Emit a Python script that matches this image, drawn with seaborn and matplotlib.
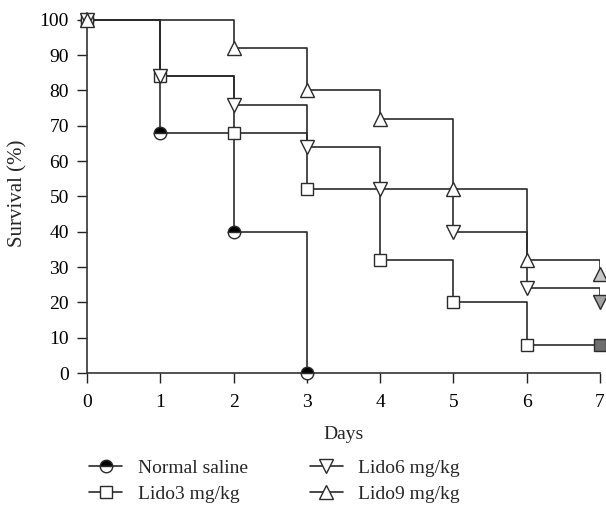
import pandas as pd
import seaborn as sns
import matplotlib.pyplot as plt
from matplotlib.lines import Line2D

# survival (%) per day
days = [0, 1, 2, 3, 4, 5, 6, 7]
saline = [100, 68, 40, 0]
lido3 = [100, 84, 68, 52, 32, 20, 8, 8]
lido6 = [100, 84, 76, 64, 52, 40, 24, 20]
lido9 = [100, 100, 92, 80, 72, 52, 32, 28]
groups = ['Normal saline', 'Lido3 mg/kg', 'Lido6 mg/kg', 'Lido9 mg/kg']
# days where a symbol is drawn (Lido9 has none on day 1)
marker_days = {
    'Normal saline': [0, 1, 2, 3],
    'Lido3 mg/kg': [0, 1, 2, 3, 4, 5, 6, 7],
    'Lido6 mg/kg': [0, 1, 2, 3, 4, 5, 6, 7],
    'Lido9 mg/kg': [0, 2, 3, 4, 5, 6, 7],
}

series = {'Normal saline': saline, 'Lido3 mg/kg': lido3,
          'Lido6 mg/kg': lido6, 'Lido9 mg/kg': lido9}
rows = []
for g, vals in series.items():
    for d, v in zip(days, vals):
        rows.append({'Days': d, 'Survival': v, 'Group': g})
df = pd.DataFrame(rows)

sns.set_style('ticks')
plt.rcParams['font.family'] = ['Liberation Serif', 'DejaVu Serif']

line_col = '#2b2b2b'
styles = {
    'Normal saline': dict(marker='o', ms=9, fillstyle='top', mfc='black', mfcalt='white'),
    'Lido3 mg/kg': dict(marker='s', ms=8, mfc='white'),
    'Lido6 mg/kg': dict(marker='v', ms=10, mfc='white'),
    'Lido9 mg/kg': dict(marker='^', ms=10, mfc='white'),
}
last_fill = {'Lido3 mg/kg': '#6e6e6e', 'Lido6 mg/kg': '#a0a0a0', 'Lido9 mg/kg': '#c8c8c8'}

fig, ax = plt.subplots(figsize=(6.06, 5.07), dpi=100)
fig.subplots_adjust(left=0.1436, right=0.99, bottom=0.264, top=0.975)

sns.lineplot(data=df, x='Days', y='Survival', hue='Group', hue_order=groups,
             palette=[line_col] * 4, drawstyle='steps-post', linewidth=1.2,
             legend=False, ax=ax, estimator=None)

for g in groups:
    vals = dict(zip(days, series[g]))
    for d in marker_days[g]:
        kw = dict(styles[g])
        if g in last_fill and d == 7:
            kw['mfc'] = last_fill[g]
        ax.plot([d], [vals[d]], linestyle='none', mec=line_col, mew=1.0,
                clip_on=False, zorder=5, **kw)

ax.set_xlim(0, 7)
ax.set_ylim(0, 102)
ax.set_xticks(days)
ax.set_yticks(range(0, 101, 10))
ax.tick_params(direction='out', length=7, width=1, colors='#222222',
               labelcolor='black', labelsize=14, pad=6)
ax.tick_params(axis='x', pad=8)
for s in ['top', 'right']:
    ax.spines[s].set_visible(False)
for s in ['left', 'bottom']:
    ax.spines[s].set_linewidth(1.2)
    ax.spines[s].set_color('#333333')
ax.set_xlabel('Days', fontsize=14, labelpad=11)
ax.set_ylabel('Survival (%)', fontsize=15, labelpad=9)

handles = [Line2D([], [], color=line_col, lw=1.2, mec=line_col, mew=1.0, **styles[g])
           for g in groups]
fig.legend(handles, groups, ncol=2, frameon=False, fontsize=14,
           loc='lower left', bbox_to_anchor=(0.118, -0.026), handlelength=1.7,
           columnspacing=3.2, labelspacing=0.4, handletextpad=0.8)

fig.savefig('out.png', dpi=100)
